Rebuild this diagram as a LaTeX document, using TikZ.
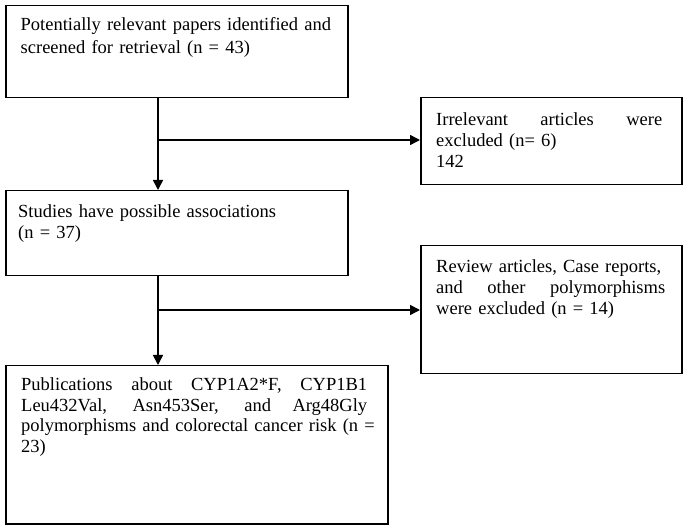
\documentclass[tikz,border=0pt]{standalone}
\usepackage{fontspec}
\setmainfont{Liberation Serif}
\usetikzlibrary{arrows.meta}
\newcommand{\jline}[2]{\makebox[#1][s]{\spaceskip=0pt\xspaceskip=0pt\relax #2}}
\begin{document}
\begin{tikzpicture}[x=1pt,y=-1pt,
  box/.style={draw=black, line width=1.5pt, anchor=north west, inner sep=0pt},
  txt/.style={anchor=north west, inner sep=0pt, align=left, text width=#1, font=\fontsize{18.5}{21}\selectfont},
  arr/.style={line width=1.5pt, -{Triangle[length=10pt,width=10pt]}}]
\useasboundingbox (0,0) rectangle (686,529);
% boxes
\node[box, minimum width=342pt, minimum height=92pt] (b1) at (5,5) {};
\node[box, minimum width=261pt, minimum height=87pt] (b2) at (420,97) {};
\node[box, minimum width=342pt, minimum height=85pt] (b3) at (5,190) {};
\node[box, minimum width=261pt, minimum height=128pt] (b5) at (420,245) {};
\node[box, minimum width=382pt, minimum height=158pt] (b4) at (5,365) {};
% texts
\node[txt=330pt, font=\fontsize{18.5}{23}\selectfont] (t1) at (20.5,17.2)
  {Potentially relevant papers identified and\\screened for retrieval (n = 43)};
\node[txt=240pt] (t2) at (436,112)
  {\jline{226pt}{Irrelevant articles were}\\excluded (n= 6)\\142};
\node[txt=330pt] (t3) at (18,204.5)
  {Studies have possible associations\\(n = 37)};
\node[txt=240pt] (t5) at (436,259)
  {Review articles, Case reports,\\\jline{229pt}{and other polymorphisms}\\were excluded (n = 14)};
\node[txt=360pt, font=\fontsize{18.5}{20.5}\selectfont] (t4) at (21,377.5)
  {\jline{346pt}{Publications about CYP1A2*F, CYP1B1}\\\jline{346pt}{Leu432Val, Asn453Ser, and Arg48Gly}\\polymorphisms and colorectal cancer risk (n =\\23)};
% connectors
\coordinate (c1) at (158,140);
\coordinate (c2) at (158,310);
\draw[arr] (b1.south -| c1) -- (b3.north -| c1);
\draw[arr] (c1) -- (c1 -| b2.west);
\draw[arr] (b3.south -| c1) -- (b4.north -| c1);
\draw[arr] (c2) -- (c2 -| b5.west);
\end{tikzpicture}
\end{document}
